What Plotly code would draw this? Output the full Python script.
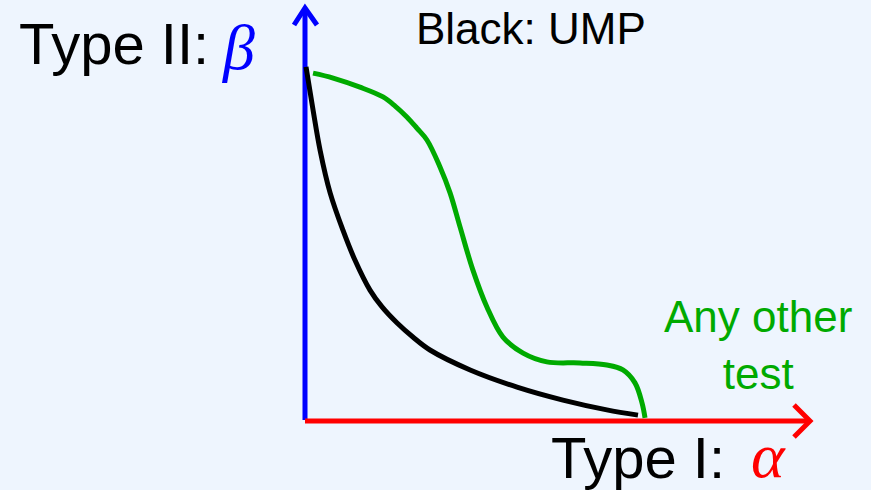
import plotly.graph_objects as go

# Type I error rate (alpha) vs Type II error rate (beta) for two tests
ump_alpha = [0.003, 0.024, 0.045, 0.075, 0.113, 0.149, 0.194, 0.230, 0.275,
             0.322, 0.373, 0.493, 0.633, 0.770, 0.901, 0.994]
ump_beta = [1.009, 0.886, 0.771, 0.649, 0.543, 0.457, 0.371, 0.323, 0.277,
            0.237, 0.200, 0.143, 0.094, 0.057, 0.029, 0.014]

other_alpha = [0.024, 0.084, 0.164, 0.233, 0.269, 0.304, 0.334, 0.364, 0.403,
               0.433, 0.463, 0.501, 0.543, 0.591, 0.651, 0.722, 0.821, 0.901,
               0.949, 0.985, 1.006, 1.015]
other_beta = [0.991, 0.977, 0.951, 0.923, 0.897, 0.866, 0.834, 0.800, 0.723,
              0.649, 0.551, 0.429, 0.323, 0.237, 0.191, 0.166, 0.163, 0.157,
              0.143, 0.106, 0.049, 0.006]

W, H = 871, 490
BG = "#EEF5FE"
GREEN = "#00AA00"

# data units -> pixels: origin at (305, 420); 1 alpha = 335 px, 1 beta = 350 px
X0, Y0, SX, SY = 305, 420, 335, 350
x_range = [-X0 / SX, (W - X0) / SX]
y_range = [-(H - Y0) / SY, Y0 / SY]


def dx(px):
    return (px - X0) / SX


def dy(py):
    return (Y0 - py) / SY


fig = go.Figure()

fig.add_trace(go.Scatter(x=other_alpha, y=other_beta, mode="lines",
                         line=dict(color=GREEN, width=5, shape="spline", smoothing=1.0),
                         hoverinfo="skip"))
fig.add_trace(go.Scatter(x=ump_alpha, y=ump_beta, mode="lines",
                         line=dict(color="black", width=5, shape="spline", smoothing=1.0),
                         hoverinfo="skip"))

shapes = []
# beta axis (blue) with open arrowhead
shapes.append(dict(type="line", x0=dx(305), y0=dy(420), x1=dx(305), y1=dy(8),
                   line=dict(color="#0000FF", width=5), layer="below"))
shapes.append(dict(type="path",
                   path=f"M {dx(294)},{dy(25)} L {dx(305)},{dy(8)} L {dx(317)},{dy(25)}",
                   line=dict(color="#0000FF", width=5)))
# alpha axis (red) with open arrowhead
shapes.append(dict(type="line", x0=dx(305), y0=dy(421), x1=dx(810), y1=dy(421),
                   line=dict(color="#FF0000", width=5), layer="below"))
shapes.append(dict(type="path",
                   path=f"M {dx(794)},{dy(405)} L {dx(810)},{dy(421)} L {dx(794)},{dy(437)}",
                   line=dict(color="#FF0000", width=5)))


def px_ann(text, x, y, size, color="black", family="Liberation Sans, Arial, sans-serif",
           xanchor="left", align="left"):
    return dict(text=text, xref="paper", yref="paper", x=x / W, y=1 - y / H,
                xanchor=xanchor, yanchor="middle", showarrow=False, align=align,
                borderpad=0, font=dict(size=size, color=color, family=family))


SERIF = "Liberation Serif, Times New Roman, serif"
annotations = [
    px_ann("Type II:", 18, 44, 58),
    px_ann("<i>β</i>", 220, 48, 64, color="#0000FF", family=SERIF),
    px_ann("Black: UMP", 415, 28, 44),
    px_ann("Any other<br>test", 758, 345, 44, color=GREEN, xanchor="center", align="center"),
    px_ann("Type I:", 550, 457, 58),
    px_ann("<i>α</i>", 750, 455, 64, color="#FF0000", family=SERIF),
]

fig.update_layout(
    width=W, height=H,
    margin=dict(l=0, r=0, t=0, b=0),
    paper_bgcolor=BG, plot_bgcolor=BG,
    showlegend=False,
    xaxis=dict(range=x_range, visible=False, fixedrange=True),
    yaxis=dict(range=y_range, visible=False, fixedrange=True),
    shapes=shapes,
    annotations=annotations,
)

fig.write_html("out.html")
